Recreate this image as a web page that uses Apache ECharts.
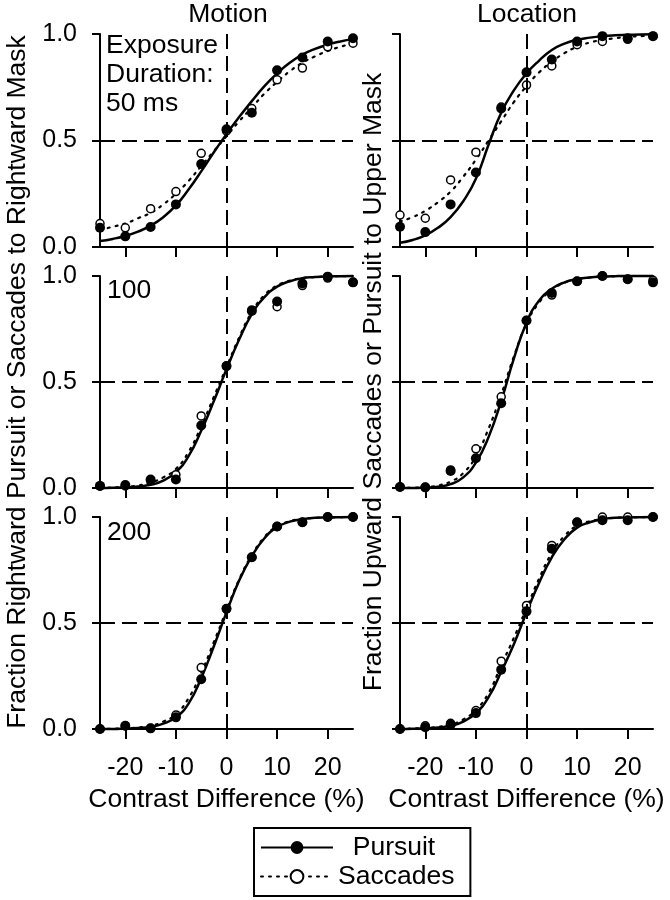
<!DOCTYPE html>
<html>
<head>
<meta charset="utf-8">
<script src="https://cdn.jsdelivr.net/npm/echarts@6/dist/echarts.min.js"></script>
<style>
  html, body { margin: 0; background: #fff; }
  #chart { width: 670px; height: 900px; }
</style>
</head>
<body>
<div id="chart"></div>
<script>
// data points (contrast difference, %)
const contrast = [-25, -20, -15, -10, -5, 0, 5, 10, 15, 20, 25]
const xTicks = [-20, -10, 0, 10, 20]
const fitContrast = [-25, -22.5, -20, -17.5, -15, -12.5, -10, -7.5, -5, -2.5, 0, 2.5, 5, 7.5, 10, 12.5, 15, 17.5, 20, 22.5, 25]

// Motion, 50 ms
const motion50Pursuit = [0.09, 0.05, 0.094, 0.2, 0.39, 0.553, 0.63, 0.83, 0.89, 0.965, 0.98]
const motion50Saccades = [0.11, 0.09, 0.18, 0.26, 0.44, 0.545, 0.65, 0.785, 0.84, 0.94, 0.957]
const motion50PursuitFit = [0.028, 0.038, 0.052, 0.072, 0.1, 0.14, 0.195, 0.27, 0.355, 0.445, 0.53, 0.61, 0.685, 0.755, 0.815, 0.865, 0.903, 0.93, 0.95, 0.965, 0.976]
const motion50SaccadesFit = [0.08, 0.095, 0.11, 0.135, 0.16, 0.2, 0.25, 0.31, 0.38, 0.45, 0.52, 0.59, 0.655, 0.72, 0.775, 0.825, 0.865, 0.895, 0.92, 0.94, 0.955]
// Location, 50 ms
const location50Pursuit = [0.095, 0.07, 0.2, 0.35, 0.65, 0.82, 0.88, 0.965, 0.99, 0.98, 0.99]
const location50Saccades = [0.15, 0.135, 0.315, 0.445, 0.657, 0.76, 0.85, 0.95, 0.965, 0.975, 0.99]
const location50PursuitFit = [0.02, 0.033, 0.055, 0.09, 0.14, 0.215, 0.32, 0.48, 0.63, 0.735, 0.815, 0.875, 0.925, 0.955, 0.973, 0.983, 0.99, 0.994, 0.996, 0.998, 0.999]
const location50SaccadesFit = [0.12, 0.14, 0.17, 0.21, 0.26, 0.33, 0.41, 0.5, 0.59, 0.68, 0.755, 0.82, 0.87, 0.91, 0.94, 0.96, 0.972, 0.98, 0.986, 0.99, 0.993]
// Motion, 100 ms
const motion100Pursuit = [0.01, 0.014, 0.04, 0.04, 0.295, 0.575, 0.835, 0.88, 0.965, 0.997, 0.97]
const motion100Saccades = [0.01, 0.01, 0.035, 0.063, 0.34, 0.575, 0.84, 0.855, 0.955, 0.99, 0.97]
const motion100PursuitFit = [0, 0.001, 0.003, 0.007, 0.015, 0.035, 0.075, 0.15, 0.27, 0.41, 0.56, 0.7, 0.82, 0.9, 0.95, 0.975, 0.99, 0.995, 0.998, 0.999, 1]
const motion100SaccadesFit = [0, 0.002, 0.005, 0.012, 0.025, 0.05, 0.09, 0.17, 0.29, 0.43, 0.57, 0.71, 0.83, 0.91, 0.955, 0.978, 0.99, 0.995, 0.998, 0.999, 1]
// Location, 100 ms
const location100Pursuit = [0.005, 0.003, 0.08, 0.14, 0.4, 0.79, 0.92, 0.975, 1, 0.985, 0.97]
const location100Saccades = [0.005, 0.003, 0.085, 0.185, 0.43, 0.79, 0.91, 0.975, 1, 0.985, 0.98]
const location100PursuitFit = [0, 0, 0.002, 0.006, 0.018, 0.05, 0.12, 0.24, 0.41, 0.61, 0.78, 0.885, 0.94, 0.97, 0.985, 0.993, 0.997, 0.999, 1, 1, 1]
const location100SaccadesFit = [0, 0.001, 0.004, 0.012, 0.03, 0.07, 0.15, 0.28, 0.44, 0.62, 0.775, 0.875, 0.935, 0.968, 0.985, 0.993, 0.997, 0.999, 1, 1, 1]
// Motion, 200 ms
const motion200Pursuit = [0, 0.015, 0.003, 0.055, 0.235, 0.567, 0.81, 0.955, 0.975, 1, 1]
const motion200Saccades = [0, 0.015, 0.003, 0.066, 0.29, 0.567, 0.81, 0.955, 0.975, 1, 1]
const motion200PursuitFit = [0, 0, 0.002, 0.005, 0.01, 0.025, 0.055, 0.12, 0.24, 0.39, 0.55, 0.7, 0.815, 0.9, 0.952, 0.978, 0.99, 0.996, 0.998, 0.999, 1]
const motion200SaccadesFit = [0, 0.001, 0.003, 0.007, 0.015, 0.035, 0.07, 0.145, 0.265, 0.41, 0.56, 0.705, 0.82, 0.905, 0.957, 0.98, 0.991, 0.996, 0.998, 0.999, 1]
// Location, 200 ms
const location200Pursuit = [0, 0.008, 0.02, 0.075, 0.28, 0.555, 0.85, 0.975, 0.985, 0.985, 1]
const location200Saccades = [0, 0.015, 0.027, 0.087, 0.32, 0.583, 0.866, 0.975, 1, 1, 1]
const location200PursuitFit = [0, 0.001, 0.003, 0.007, 0.015, 0.035, 0.075, 0.15, 0.27, 0.4, 0.55, 0.69, 0.81, 0.895, 0.95, 0.975, 0.99, 0.996, 0.998, 0.999, 1]
const location200SaccadesFit = [0, 0.002, 0.005, 0.01, 0.02, 0.045, 0.09, 0.17, 0.3, 0.43, 0.57, 0.71, 0.83, 0.91, 0.96, 0.98, 0.99, 0.996, 0.998, 0.999, 1]

const leftYName = 'Fraction Rightward Pursuit or Saccades to Rightward Mask'
const rightYName = 'Fraction Upward Saccades or Pursuit to Upper Mask'

const FONT = 'Liberation Sans'
const FS = 25 // tick labels
const FS_TEXT = 26.5 // titles, axis names, notes
const black = '#000'

// panel layout: col 0 = Motion, col 1 = Location
const panels = [
  { col: 0, row: 0, pursuit: motion50Pursuit, saccades: motion50Saccades, pFit: motion50PursuitFit, sFit: motion50SaccadesFit },
  { col: 1, row: 0, pursuit: location50Pursuit, saccades: location50Saccades, pFit: location50PursuitFit, sFit: location50SaccadesFit },
  { col: 0, row: 1, pursuit: motion100Pursuit, saccades: motion100Saccades, pFit: motion100PursuitFit, sFit: motion100SaccadesFit },
  { col: 1, row: 1, pursuit: location100Pursuit, saccades: location100Saccades, pFit: location100PursuitFit, sFit: location100SaccadesFit },
  { col: 0, row: 2, pursuit: motion200Pursuit, saccades: motion200Saccades, pFit: motion200PursuitFit, sFit: motion200SaccadesFit },
  { col: 1, row: 2, pursuit: location200Pursuit, saccades: location200Saccades, pFit: location200PursuitFit, sFit: location200SaccadesFit }
]
const colLeft = [100, 400]
const rowTop = [34, 276, 517]
const rowHeight = [213, 212, 212]

const pairs = (xs, ys) => xs.map((x, k) => [x, ys[k]])

const chart = echarts.init(document.getElementById('chart'))

const grid = panels.map(p => ({
  left: colLeft[p.col],
  top: rowTop[p.row],
  width: 253,
  height: rowHeight[p.row]
}))

const xAxis = panels.map((p, i) => ({
  gridIndex: i,
  type: 'value',
  min: -25,
  max: 25,
  splitLine: { show: false },
  axisLine: { onZero: false, lineStyle: { color: black, width: 2 } },
  axisTick: { show: true, customValues: xTicks, length: 10, lineStyle: { color: black, width: 2 } },
  axisLabel: {
    show: p.row === 2,
    customValues: xTicks,
    margin: 27,
    color: black,
    fontSize: FS,
    fontFamily: FONT
  },
  name: p.row === 2 ? 'Contrast Difference (%)' : '',
  nameLocation: 'middle',
  nameGap: 57,
  nameTextStyle: { color: black, fontSize: FS_TEXT, fontFamily: FONT }
}))

const yAxis = panels.map((p, i) => ({
  gridIndex: i,
  type: 'value',
  min: 0,
  max: 1,
  interval: 0.5,
  splitLine: { show: false },
  axisLine: { show: true, onZero: false, lineStyle: { color: black, width: 2 } },
  axisTick: { show: true, length: 8, lineStyle: { color: black, width: 2 } },
  axisLabel: {
    show: p.col === 0,
    margin: 23,
    color: black,
    fontSize: FS,
    fontFamily: FONT,
    formatter: v => v.toFixed(1)
  },
  name: p.row === 1 ? (p.col === 0 ? leftYName : rightYName) : '',
  nameLocation: 'middle',
  nameRotate: 90,
  nameGap: p.col === 0 ? 69 : 13,
  nameTextStyle: { color: black, fontSize: FS_TEXT, fontFamily: FONT }
}))

const series = []
panels.forEach((p, i) => {
  series.push({
    name: 'Pursuit',
    type: 'line',
    xAxisIndex: i,
    yAxisIndex: i,
    data: pairs(fitContrast, p.pFit),
    smooth: 0.5,
    showSymbol: false,
    symbol: 'circle',
    symbolSize: 14,
    itemStyle: { color: black },
    lineStyle: { color: black, width: 2.5 },
    silent: true,
    clip: false,
    z: 3,
    markLine: {
      silent: true,
      symbol: 'none',
      label: { show: false },
      lineStyle: { color: black, width: 2, type: [15, 7] },
      data: [{ yAxis: 0.5 }, { xAxis: 0 }]
    }
  })
  series.push({
    name: 'Saccades',
    type: 'line',
    xAxisIndex: i,
    yAxisIndex: i,
    data: pairs(fitContrast, p.sFit),
    smooth: 0.5,
    showSymbol: false,
    symbol: 'circle',
    symbolSize: 11,
    itemStyle: { color: '#fff', borderColor: black, borderWidth: 2 },
    lineStyle: { color: black, width: 2.2, type: [2, 6], cap: 'round' },
    silent: true,
    clip: false,
    z: 3
  })
  series.push({
    name: 'Saccades data',
    type: 'scatter',
    xAxisIndex: i,
    yAxisIndex: i,
    data: pairs(contrast, p.saccades),
    symbol: 'circle',
    symbolSize: 8,
    itemStyle: { color: '#fff', borderColor: black, borderWidth: 1.5, opacity: 1 },
    clip: false,
    z: 4
  })
  series.push({
    name: 'Pursuit data',
    type: 'scatter',
    xAxisIndex: i,
    yAxisIndex: i,
    data: pairs(contrast, p.pursuit),
    symbol: 'circle',
    symbolSize: 10,
    itemStyle: { color: black, opacity: 1 },
    clip: false,
    z: 5
  })
})

const textStyle = { fontSize: FS_TEXT, fontFamily: FONT, fill: black }

const option = {
  backgroundColor: '#fff',
  animation: false,
  textStyle: { fontFamily: FONT, color: black },
  grid,
  xAxis,
  yAxis,
  series,
  legend: {
    data: ['Pursuit', 'Saccades'],
    orient: 'vertical',
    left: 254,
    top: 828,
    itemWidth: 72,
    itemHeight: 16,
    itemGap: 2,
    padding: [6, 16, 6, 6],
    borderColor: black,
    borderWidth: 2,
    selectedMode: false,
    formatter: name => (name === 'Pursuit' ? '  Pursuit' : name),
    textStyle: { color: black, fontSize: FS_TEXT, fontFamily: FONT }
  },
  graphic: [
    { type: 'text', x: 228, y: 15, style: Object.assign({ text: 'Motion', align: 'center', verticalAlign: 'middle' }, textStyle) },
    { type: 'text', x: 527, y: 15, style: Object.assign({ text: 'Location', align: 'center', verticalAlign: 'middle' }, textStyle) },
    { type: 'text', x: 106, y: 31, style: Object.assign({ text: 'Exposure\nDuration:\n50 ms', lineHeight: 29 }, textStyle) },
    { type: 'text', x: 107, y: 277, style: Object.assign({ text: '100' }, textStyle) },
    { type: 'text', x: 107, y: 519, style: Object.assign({ text: '200' }, textStyle) }
  ]
}

chart.setOption(option)
</script>
</body>
</html>
